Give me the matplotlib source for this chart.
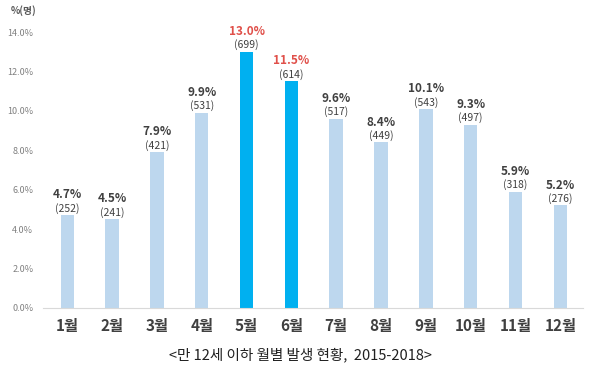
import matplotlib
matplotlib.use("Agg")
import matplotlib.pyplot as plt
from matplotlib.ticker import FuncFormatter

plt.rcParams['font.family'] = ['Noto Sans CJK KR', 'DejaVu Sans']

months = ['1월', '2월', '3월', '4월', '5월', '6월', '7월', '8월', '9월', '10월', '11월', '12월']
pct = [4.7, 4.5, 7.9, 9.9, 13.0, 11.5, 9.6, 8.4, 10.1, 9.3, 5.9, 5.2]
counts = [252, 241, 421, 531, 699, 614, 517, 449, 543, 497, 318, 276]
highlight = ['5월', '6월']

fig = plt.figure(figsize=(6, 3.7), dpi=100)
ax = fig.add_axes([0.0717, 0.1676, 0.9003, 0.7724])

x = list(range(len(months)))
colors = ['#00B0F0' if m in highlight else '#BDD7EE' for m in months]
ax.bar(x, pct, width=0.3, color=colors, zorder=2)

for xi, p, c, m in zip(x, pct, counts, months):
    hl = m in highlight
    ax.annotate(f'({c})', (xi, p), xytext=(0, 1), textcoords='offset points',
                ha='center', va='bottom', fontsize=7.5, color='#404040')
    ax.annotate(f'{p:.1f}%', (xi, p), xytext=(0, 10), textcoords='offset points',
                ha='center', va='bottom', fontsize=8.5, fontweight='bold',
                color='#E0504A' if hl else '#404040')

ax.set_xlim(-0.54, 11.51)
ax.set_ylim(0, 14.5)
ax.set_yticks([0, 2, 4, 6, 8, 10, 12, 14])
ax.yaxis.set_major_formatter(FuncFormatter(lambda v, _: f'{v:.1f}%'))
ax.set_xticks(x)
ax.set_xticklabels(months, fontsize=11, fontweight='bold', color='#404040')
ax.tick_params(axis='y', length=0, labelsize=6.5, labelcolor='#808080', pad=7)
ax.tick_params(axis='x', length=0, pad=7)
for s in ['top', 'right', 'left']:
    ax.spines[s].set_visible(False)
ax.spines['bottom'].set_color('#D9D9D9')

fig.text(0.018, 0.972, '%(명)', fontsize=7, color='#595959', fontweight='bold', ha='left', va='center')
fig.text(0.5, 0.04, '<만 12세 이하 월별 발생 현황,  2015-2018>', fontsize=10.5, color='#202020',
         ha='center', va='center')

fig.savefig('out.png', dpi=100)
